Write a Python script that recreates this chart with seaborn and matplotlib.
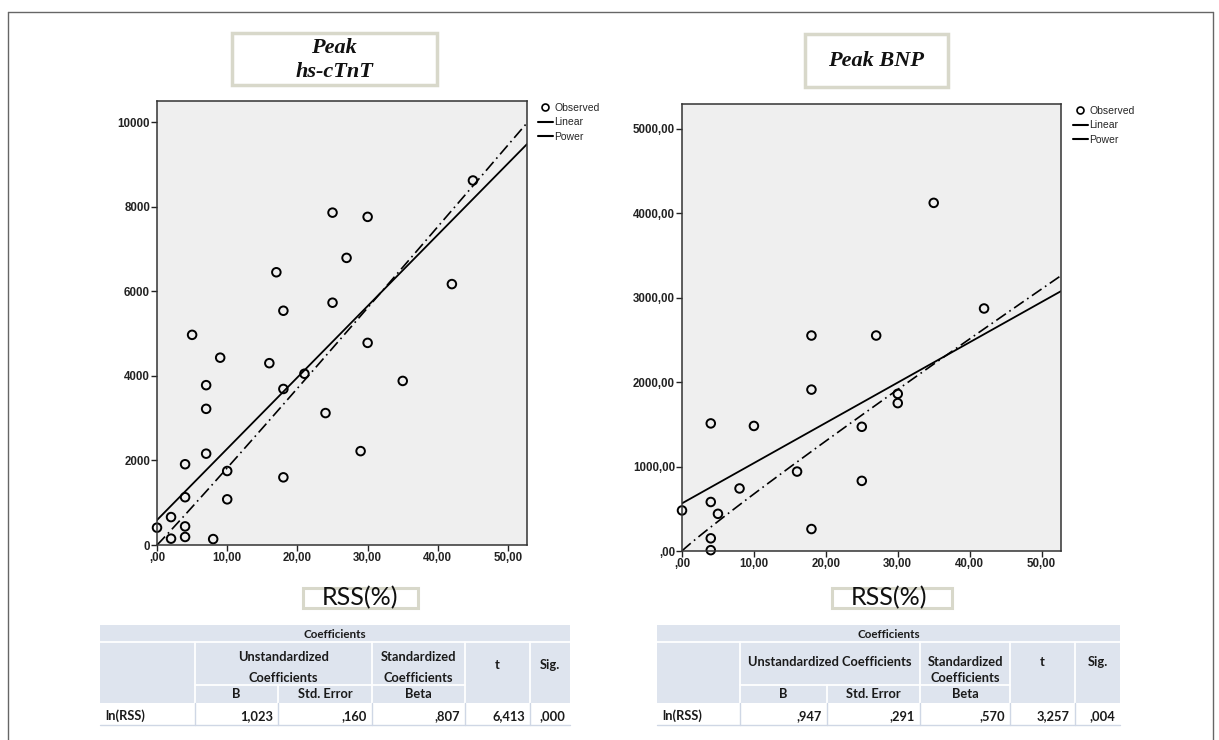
import numpy as np
import pandas as pd
import matplotlib
matplotlib.use("Agg")
import matplotlib.pyplot as plt
import seaborn as sns
from matplotlib.lines import Line2D
from matplotlib.patches import Rectangle

# ---------------- data ----------------
ctnt_rss = [0, 2, 2, 4, 4, 4, 4, 5, 7, 7, 7, 8, 9, 10, 10, 16, 17, 18, 18, 18,
            21, 24, 25, 25, 27, 29, 30, 30, 35, 42, 45]
ctnt_peak = [410, 660, 150, 1910, 1130, 440, 190, 4970, 3780, 3220, 2160, 140,
             4430, 1750, 1080, 4300, 6450, 5540, 3690, 1600, 4050, 3120, 7860,
             5730, 6790, 2220, 7760, 4780, 3880, 6170, 8620]
bnp_rss = [0, 4, 4, 4, 4, 5, 8, 10, 16, 18, 18, 18, 25, 25, 27, 30, 30, 35, 42]
bnp_peak = [480, 1510, 580, 150, 10, 440, 740, 1480, 940, 2550, 1910, 260,
            1470, 830, 2550, 1860, 1750, 4120, 2870]

# fitted model parameters
ctnt_linear = [590, 168.7]      # intercept, slope
ctnt_power = [172.9, 1.023]     # constant, exponent
bnp_linear = [564, 47.65]
bnp_power = [76.3, 0.947]

x_ticks = [0, 10, 20, 30, 40, 50]
x_ticklabels = [",00", "10,00", "20,00", "30,00", "40,00", "50,00"]
ctnt_yticks = [0, 2000, 4000, 6000, 8000, 10000]
ctnt_yticklabels = ["0", "2000", "4000", "6000", "8000", "10000"]
bnp_yticks = [0, 1000, 2000, 3000, 4000, 5000]
bnp_yticklabels = [",00", "1000,00", "2000,00", "3000,00", "4000,00", "5000,00"]

ctnt_coef = ["1,023", ",160", ",807", "6,413", ",000"]
bnp_coef = [",947", ",291", ",570", "3,257", ",004"]

legend_labels = ["Observed", "Linear", "Power"]

# ---------------- style ----------------
sns.set_theme(style="white")
plt.rcParams["font.family"] = ["Liberation Sans", "DejaVu Sans"]

W, H = 1219, 740
fig = plt.figure(figsize=(W / 100, H / 100), dpi=100)
fig.patch.set_facecolor("white")


def fit_df(lin, pw, xmax):
    xs = np.linspace(0, xmax, 300)
    return pd.DataFrame({"x": xs,
                         "lin": lin[0] + lin[1] * xs,
                         "pow": pw[0] * xs ** pw[1]})


def px_rect(x0, y0, x1, y1):
    return [x0 / W, 1 - y1 / H, (x1 - x0) / W, (y1 - y0) / H]


def panel(rect, xs, ys, lin, pw, ylim, yticks, yticklabels, leg_xy):
    ax = fig.add_axes(rect)
    ax.set_facecolor("#efefef")
    xmax = 52.7
    df = fit_df(lin, pw, xmax)
    sns.lineplot(data=df, x="x", y="lin", color="black", lw=1.3, ax=ax)
    sns.lineplot(data=df, x="x", y="pow", color="black", lw=1.2, ax=ax)
    ax.lines[-1].set_dashes((7, 2.5, 1, 2.5))
    sns.scatterplot(x=xs, y=ys, marker="o", s=38, ax=ax, color="black")
    pts = ax.collections[-1]
    pts.set_facecolor("none")
    pts.set_edgecolor("black")
    pts.set_linewidth(1.4)
    pts.set_clip_on(False)
    ax.set_xlim(0, xmax)
    ax.set_ylim(*ylim)
    ax.set_xticks(x_ticks)
    ax.set_xticklabels(x_ticklabels)
    ax.set_yticks(yticks)
    ax.set_yticklabels(yticklabels)
    ax.set_xlabel("")
    ax.set_ylabel("")
    ax.tick_params(axis="both", which="major", direction="out", length=4,
                   width=1, color="#222222", labelsize=8.3, labelcolor="#222222",
                   pad=1, left=True, bottom=True)
    for lab in ax.get_xticklabels() + ax.get_yticklabels():
        lab.set_fontweight("bold")
    for sp in ax.spines.values():
        sp.set_color("#333333")
        sp.set_linewidth(1.1)
        sp.set_visible(True)
    handles = [
        Line2D([], [], marker="o", ls="none", mfc="none", mec="black",
               mew=1.2, ms=5),
        Line2D([], [], color="black", lw=1.5),
        Line2D([], [], color="black", lw=1.5),
    ]
    ax.legend(handles, legend_labels, loc="upper left",
              bbox_to_anchor=(leg_xy[0] / W, 1 - leg_xy[1] / H),
              bbox_transform=fig.transFigure, frameon=False, fontsize=7.5,
              handlelength=1.4, handletextpad=0.15, labelspacing=0.42,
              borderpad=0, borderaxespad=0)
    return ax


ax1 = panel(px_rect(157, 101, 527, 545), ctnt_rss, ctnt_peak, ctnt_linear,
            ctnt_power, (0, 10500), ctnt_yticks, ctnt_yticklabels, (538, 103))
ax2 = panel(px_rect(682, 104, 1061, 551), bnp_rss, bnp_peak, bnp_linear,
            bnp_power, (0, 5290), bnp_yticks, bnp_yticklabels, (1073, 106))

# ---------------- overlay (pixel coordinates) ----------------
ov = fig.add_axes([0, 0, 1, 1], zorder=5)
ov.set_xlim(0, W)
ov.set_ylim(H, 0)
ov.axis("off")

# outer frame
ov.plot([8, 1213], [12, 12], color="#666666", lw=1)
ov.plot([8, 8], [12, 740], color="#666666", lw=1)
ov.plot([1213, 1213], [12, 740], color="#666666", lw=1)

box_ec = "#d8d8ca"
serif = ["Liberation Serif", "DejaVu Serif"]
ov.add_patch(Rectangle((232, 33), 205, 52, fc="white", ec=box_ec, lw=2.5))
ov.text(334, 48, "Peak", ha="center", va="center", family=serif,
        weight="bold", style="italic", fontsize=16, color="#111111")
ov.text(334, 72, "hs-cTnT", ha="center", va="center", family=serif,
        weight="bold", style="italic", fontsize=16, color="#111111")
ov.add_patch(Rectangle((805, 34), 143, 53, fc="white", ec=box_ec, lw=2.5))
ov.text(876, 61, "Peak BNP", ha="center", va="center", family=serif,
        weight="bold", style="italic", fontsize=16, color="#111111")

# RSS(%) boxed labels
for (bx0, bx1, tx) in [(303, 418, 360), (832, 952, 889)]:
    ov.add_patch(Rectangle((bx0, 588), bx1 - bx0, 20, fc="none", ec=box_ec,
                           lw=2.2))
    ov.text(tx, 598, "RSS(%)", ha="center", va="center",
            family=["Lato", "DejaVu Sans"], fontsize=18, color="#111111")

# tables
tfam = ["Lato", "DejaVu Sans"]
hdr = "#dee4ee"
line_c = "#ffffff"
row_line = "#cfd7e5"


def draw_table(cols, vals, two_line_unstd):
    y0, y1, y2, y3, y4 = 625, 642, 685, 703, 725
    x0, x6 = cols[0], cols[-1]
    ov.add_patch(Rectangle((x0, y0), x6 - x0, y3 - y0, fc=hdr, ec="none"))
    kw = dict(color=line_c, lw=1.3)
    ov.plot([x0, x6], [y1, y1], **kw)
    ov.plot([cols[1], cols[4]], [y2, y2], **kw)
    ov.plot([cols[1], cols[1]], [y1, y3], **kw)
    ov.plot([cols[2], cols[2]], [y2, y3], **kw)
    for c in cols[3:6]:
        ov.plot([c, c], [y1, y3], **kw)
    rk = dict(color=row_line, lw=1)
    for c in cols[1:6]:
        ov.plot([c, c], [y3, y4], **rk)
    ov.plot([x0, x6], [y4, y4], **rk)
    tk = dict(family=tfam, weight="bold", fontsize=9.3, color="#1a1a1a",
              va="center")
    ov.text((x0 + x6) / 2, 634, "Coefficients", ha="center",
            **{**tk, "fontsize": 8.4})
    if two_line_unstd:
        ov.text((cols[1] + cols[3]) / 2, 657, "Unstandardized", ha="center", **tk)
        ov.text((cols[1] + cols[3]) / 2, 678, "Coefficients", ha="center", **tk)
        ov.text((cols[3] + cols[4]) / 2, 657, "Standardized", ha="center", **tk)
        ov.text((cols[3] + cols[4]) / 2, 678, "Coefficients", ha="center", **tk)
        ty = 665
    else:
        ov.text((cols[1] + cols[3]) / 2, 662, "Unstandardized Coefficients",
                ha="center", **tk)
        ov.text((cols[3] + cols[4]) / 2, 662, "Standardized", ha="center", **tk)
        ov.text((cols[3] + cols[4]) / 2, 678, "Coefficients", ha="center", **tk)
        ty = 662
    ov.text((cols[4] + cols[5]) / 2, ty, "t", ha="center", **tk)
    ov.text((cols[5] + cols[6]) / 2, ty, "Sig.", ha="center", **tk)
    ov.text((cols[1] + cols[2]) / 2, 694, "B", ha="center", **tk)
    ov.text((cols[2] + cols[3]) / 2, 694, "Std. Error", ha="center", **tk)
    ov.text((cols[3] + cols[4]) / 2, 694, "Beta", ha="center", **tk)
    ov.text(x0 + 5, 716, "ln(RSS)", ha="left", **tk)
    for i, v in enumerate(vals):
        ov.text(cols[i + 2] - 5, 716, v, ha="right", **tk)


draw_table([100, 195, 278, 372, 465, 530, 570], ctnt_coef, True)
draw_table([657, 740, 827, 920, 1010, 1075, 1120], bnp_coef, False)

fig.savefig("out.png", dpi=100, facecolor="white")
